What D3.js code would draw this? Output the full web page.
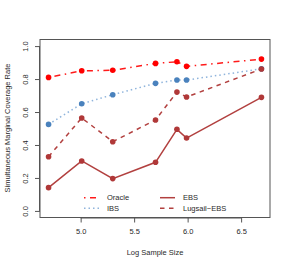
<!DOCTYPE html>
<html><head><meta charset="utf-8">
<script src="https://cdn.jsdelivr.net/npm/d3@7"></script>
<style>body{margin:0;background:#fff}svg{display:block}</style>
</head><body>
<script>
const logSizes = [4.70, 5.01, 5.30, 5.70, 5.90, 5.99, 6.69];
const oracle = [0.81, 0.85, 0.853, 0.895, 0.905, 0.877, 0.921];
const ibs = [0.525, 0.65, 0.705, 0.774, 0.794, 0.794, 0.862];
const ebs = [0.141, 0.303, 0.196, 0.295, 0.495, 0.442, 0.689];
const lugsail = [0.329, 0.564, 0.42, 0.552, 0.721, 0.691, 0.861];
const xTicks = [5.0, 5.5, 6.0, 6.5];
const yTicks = [0.0, 0.2, 0.4, 0.6, 0.8, 1.0];

const W = 291, H = 267;
const FONT = "Liberation Sans, Arial, sans-serif";
const TXT = "#2a2a2a";
const svg = d3.select("body").append("svg").attr("width", W).attr("height", H);
const x = d3.scaleLinear().domain([4.62, 6.77]).range([40, 270]);
const y = d3.scaleLinear().domain([-0.04, 1.04]).range([217.5, 39.5]);

const series = [
  {name: "Oracle", vals: oracle, color: "#ff1a1a", dash: "1.5,4.5,6,4.5", pt: "#ff0000"},
  {name: "IBS", vals: ibs, color: "#8fb4dc", dash: "1.5,3", pt: "#4a82bd"},
  {name: "EBS", vals: ebs, color: "#b2403f", dash: null, pt: "#b03838"},
  {name: "Lugsail\u2212EBS", vals: lugsail, color: "#b2403f", dash: "4.5,4.5", pt: "#b03838"}
];

const line = d3.line().x(d => x(d[0])).y(d => y(d[1]));
series.forEach(s => {
  const pts = logSizes.map((v, i) => [v, s.vals[i]]);
  svg.append("path").datum(pts).attr("d", line).attr("fill", "none")
    .attr("stroke", s.color).attr("stroke-width", 1.5)
    .attr("stroke-dasharray", s.dash);
  svg.selectAll(null).data(pts).enter().append("circle")
    .attr("cx", d => x(d[0])).attr("cy", d => y(d[1])).attr("r", 2.8)
    .attr("fill", s.pt);
});

// box
svg.append("rect").attr("x", 40).attr("y", 39.5).attr("width", 230).attr("height", 178)
  .attr("fill", "none").attr("stroke", "#555").attr("stroke-width", 1);

// x axis
const xa = svg.append("g").attr("transform", "translate(0,217.5)")
  .call(d3.axisBottom(x).tickValues(xTicks).tickFormat(d3.format(".1f")).tickSize(5).tickPadding(6));
xa.select(".domain").attr("d", `M${x(5)},0.5H${x(6.5)}`).attr("stroke", "#555");
xa.selectAll(".tick line").attr("stroke", "#555");
xa.selectAll("text").attr("font-size", 7.5).attr("font-family", FONT).attr("fill", TXT);

// y axis
const ya = svg.append("g").attr("transform", "translate(40,0)")
  .call(d3.axisLeft(y).tickValues(yTicks).tickFormat(d3.format(".1f")).tickSize(5).tickPadding(0));
ya.select(".domain").attr("d", `M-0.5,${y(0)}V${y(1)}`).attr("stroke", "#555");
ya.selectAll(".tick line").attr("stroke", "#555");
ya.selectAll("text").attr("font-size", 7.5).attr("font-family", FONT).attr("fill", TXT)
  .attr("x", 0).attr("dy", 0).attr("text-anchor", "middle")
  .attr("transform", "translate(-12,0) rotate(-90)");

// axis titles
svg.append("text").attr("x", 155).attr("y", 255).attr("text-anchor", "middle")
  .attr("font-size", 7.5).attr("font-family", FONT).attr("fill", TXT).text("Log Sample Size");
svg.append("text").attr("transform", "translate(10,128) rotate(-90)").attr("text-anchor", "middle")
  .attr("font-size", 7.5).attr("font-family", FONT).attr("fill", TXT).text("Simultaneous Marginal Coverage Rate");

// legend
const leg = [
  {s: series[0], lx: 84, ly: 197.7},
  {s: series[1], lx: 84, ly: 208.3},
  {s: series[2], lx: 160, ly: 197.7},
  {s: series[3], lx: 160, ly: 208.3}
];
leg.forEach(l => {
  svg.append("line").attr("x1", l.lx).attr("x2", l.lx + 15).attr("y1", l.ly).attr("y2", l.ly)
    .attr("stroke", l.s.color).attr("stroke-width", 1.5).attr("stroke-dasharray", l.s.dash);
  svg.append("text").attr("x", l.lx + 23).attr("y", l.ly + 2.7).attr("font-size", 7.5)
    .attr("font-family", FONT).attr("fill", TXT).text(l.s.name);
});
</script>
</body></html>
